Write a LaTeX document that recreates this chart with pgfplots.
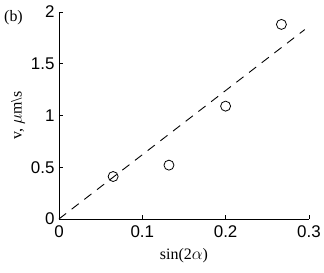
\documentclass[border=0pt]{standalone}
\usepackage{pgfplots}
\pgfplotsset{compat=1.18}
\usepackage{fontspec}
\setmainfont{Liberation Serif}
\newfontfamily\ticksf{Liberation Sans}
\begin{document}
\begin{tikzpicture}[x=1bp,y=1bp]
\path (0,0) rectangle (324,273);
\begin{axis}[
  at={(59bp,54bp)}, anchor=south west,
  scale only axis, width=250bp, height=207bp,
  xmin=0, xmax=0.3, ymin=0, ymax=2,
  axis x line=bottom, axis y line=left,
  axis line style={-, line width=0.8pt},
  xtick={0,0.1,0.2,0.3}, ytick={0,0.5,1,1.5,2},
  xticklabels={0,0.1,0.2,0.3}, yticklabels={0,0.5,1,1.5,2},
  tick align=inside, major tick length=4bp,
  tick style={line width=0.6pt, black},
  ticklabel style={font=\ticksf\fontsize{17}{19}\selectfont},
  xticklabel style={yshift=-3bp},
  yticklabel style={xshift=-1bp},
  xlabel={sin(2$\alpha$)}, ylabel={v, $\mu$m\textbackslash s},
  label style={font=\fontsize{16}{18}\selectfont},
  xlabel style={yshift=-4bp},
  ylabel style={yshift=-1bp},
  clip=false,
]
\addplot[black, dashed, line width=0.9pt, dash pattern=on 9bp off 7bp] coordinates {(0,0) (0.295,1.83)};
\addplot[only marks, mark=o, mark size=5bp, black, line width=0.8pt] coordinates {
(0.065,0.41) (0.132,0.52) (0.200,1.09) (0.267,1.88)};
\end{axis}
\node[font=\fontsize{16}{18}\selectfont] at (13.5,255) {(b)};
\end{tikzpicture}
\end{document}
